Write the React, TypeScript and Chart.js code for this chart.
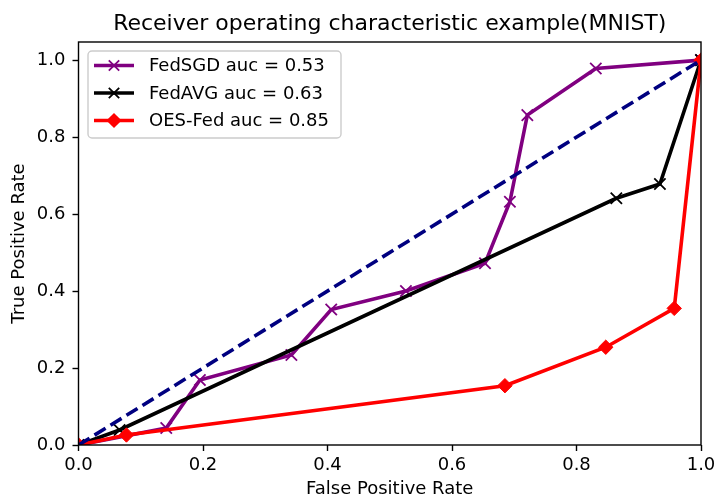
import React, { useEffect, useRef } from "react";
import { Chart, registerables } from "chart.js";

Chart.register(...registerables);

const TITLE = "Receiver operating characteristic example(MNIST)";
const X_LABEL = "False Positive Rate";
const Y_LABEL = "True Positive Rate";

const SGD_LABEL = "FedSGD auc = 0.53";
const SGD_FPR = [0, 0.141, 0.195, 0.342, 0.406, 0.526, 0.653, 0.693, 0.721, 0.831, 1];
const SGD_TPR = [0, 0.044, 0.169, 0.234, 0.352, 0.4, 0.472, 0.632, 0.857, 0.978, 1];

const AVG_LABEL = "FedAVG auc = 0.63";
const AVG_FPR = [0, 0.066, 0.864, 0.934, 1];
const AVG_TPR = [0, 0.039, 0.641, 0.678, 1];

const OES_LABEL = "OES-Fed auc = 0.85";
const OES_FPR = [0, 0.077, 0.685, 0.847, 0.957, 1];
const OES_TPR = [0, 0.026, 0.154, 0.254, 0.355, 1];

const DIAG_FPR = [0, 1];
const DIAG_TPR = [0, 1];

const X_TICKS = [0, 0.2, 0.4, 0.6, 0.8, 1.0];
const Y_TICKS = [0, 0.2, 0.4, 0.6, 0.8, 1.0];

const FONT = "'DejaVu Sans', sans-serif";
const PURPLE = "#800080";
const NAVY = "#000080";
const RED = "#ff0000";
const BLACK = "#000000";
const LW = 3.6;

const toPts = (xs: number[], ys: number[]) => xs.map((x, i) => ({ x, y: ys[i] }));

const LEGEND = [
  { label: SGD_LABEL, color: PURPLE, marker: "x" },
  { label: AVG_LABEL, color: BLACK, marker: "x" },
  { label: OES_LABEL, color: RED, marker: "D" },
];

const framePlugin = {
  id: "mplFrame",
  afterDatasetsDraw(chart: any) {
    const { ctx, chartArea: a } = chart;
    ctx.save();
    ctx.strokeStyle = "#000";
    ctx.lineWidth = 1.4;
    ctx.strokeRect(a.left, a.top, a.right - a.left, a.bottom - a.top);
    ctx.restore();
  },
};

const titlePlugin = {
  id: "mplTitle",
  afterDraw(chart: any) {
    const { ctx, chartArea: a } = chart;
    ctx.save();
    ctx.font = `22px ${FONT}`;
    ctx.fillStyle = "#000";
    ctx.textAlign = "center";
    ctx.textBaseline = "alphabetic";
    ctx.fillText(TITLE, (a.left + a.right) / 2, 30);
    ctx.restore();
  },
};

const legendPlugin = {
  id: "mplLegend",
  afterDraw(chart: any) {
    const { ctx, chartArea: a } = chart;
    const bx = a.left + 9.5;
    const by = a.top + 9;
    const bw = 253;
    const bh = 87;
    const r = 4;
    ctx.save();
    ctx.beginPath();
    ctx.moveTo(bx + r, by);
    ctx.lineTo(bx + bw - r, by);
    ctx.arcTo(bx + bw, by, bx + bw, by + r, r);
    ctx.lineTo(bx + bw, by + bh - r);
    ctx.arcTo(bx + bw, by + bh, bx + bw - r, by + bh, r);
    ctx.lineTo(bx + r, by + bh);
    ctx.arcTo(bx, by + bh, bx, by + bh - r, r);
    ctx.lineTo(bx, by + r);
    ctx.arcTo(bx, by, bx + r, by, r);
    ctx.closePath();
    ctx.fillStyle = "rgba(255,255,255,0.8)";
    ctx.fill();
    ctx.strokeStyle = "#cccccc";
    ctx.lineWidth = 1.4;
    ctx.stroke();

    const x0 = bx + 6;
    const x1 = bx + 46;
    const xm = (x0 + x1) / 2;
    const rows = [by + 14.5, by + 42, by + 69.5];
    LEGEND.forEach((e, i) => {
      const y = rows[i];
      ctx.strokeStyle = e.color;
      ctx.lineWidth = LW;
      ctx.beginPath();
      ctx.moveTo(x0, y);
      ctx.lineTo(x1, y);
      ctx.stroke();
      if (e.marker === "x") {
        const h = 5.2;
        ctx.lineWidth = 1.8;
        ctx.beginPath();
        ctx.moveTo(xm - h, y - h);
        ctx.lineTo(xm + h, y + h);
        ctx.moveTo(xm - h, y + h);
        ctx.lineTo(xm + h, y - h);
        ctx.stroke();
      } else {
        const h = 7.6;
        ctx.fillStyle = e.color;
        ctx.beginPath();
        ctx.moveTo(xm, y - h);
        ctx.lineTo(xm + h, y);
        ctx.lineTo(xm, y + h);
        ctx.lineTo(xm - h, y);
        ctx.closePath();
        ctx.fill();
      }
      ctx.fillStyle = "#000";
      ctx.font = `18px ${FONT}`;
      ctx.textAlign = "left";
      ctx.textBaseline = "middle";
      ctx.fillText(e.label, bx + 61, y + 1);
    });
    ctx.restore();
  },
};

export default function App() {
  const ref = useRef<HTMLCanvasElement | null>(null);
  useEffect(() => {
    if (!ref.current) return;
    const chart = new Chart(ref.current, {
      type: "scatter",
      data: {
        datasets: [
          {
            label: "diag",
            data: toPts(DIAG_FPR, DIAG_TPR),
            showLine: true,
            borderColor: NAVY,
            borderWidth: LW,
            borderDash: [13, 5.8],
            pointRadius: 0,
            order: 0,
          },
          {
            label: OES_LABEL,
            data: toPts(OES_FPR, OES_TPR),
            showLine: true,
            borderColor: RED,
            backgroundColor: RED,
            borderWidth: LW,
            pointStyle: "rectRot",
            pointRadius: 7.2,
            pointBorderWidth: 1,
            pointBorderColor: RED,
            pointBackgroundColor: RED,
            order: 1,
          },
          {
            label: AVG_LABEL,
            data: toPts(AVG_FPR, AVG_TPR),
            showLine: true,
            borderColor: BLACK,
            backgroundColor: BLACK,
            borderWidth: LW,
            pointStyle: "crossRot",
            pointRadius: 8,
            pointBorderWidth: 1.8,
            pointBorderColor: BLACK,
            order: 2,
          },
          {
            label: SGD_LABEL,
            data: toPts(SGD_FPR, SGD_TPR),
            showLine: true,
            borderColor: PURPLE,
            backgroundColor: PURPLE,
            borderWidth: LW,
            pointStyle: "crossRot",
            pointRadius: 8,
            pointBorderWidth: 1.8,
            pointBorderColor: PURPLE,
            order: 3,
          },
        ],
      },
      options: {
        responsive: false,
        animation: false,
        events: [],
        layout: { padding: { top: 42, right: 14, left: 0, bottom: 0 } },
        plugins: { legend: { display: false }, tooltip: { enabled: false }, title: { display: false } },
        scales: {
          x: {
            type: "linear",
            min: 0,
            max: 1,
            afterFit: (s: any) => {
              s.height = 55;
              s.paddingLeft = 0;
              s.paddingRight = 0;
            },
            afterBuildTicks: (s: any) => {
              s.ticks = X_TICKS.map((v) => ({ value: v }));
            },
            ticks: {
              includeBounds: false,
              padding: 4,
              color: "#000",
              font: { family: FONT, size: 18 },
              maxRotation: 0,
              callback: (v: any) => Number(v).toFixed(1),
            },
            grid: { display: true, drawOnChartArea: false, drawTicks: true, tickLength: 6, tickColor: "#000", tickWidth: 1.4 },
            border: { display: false },
            title: { display: true, text: X_LABEL, color: "#000", font: { family: FONT, size: 18 }, padding: { top: 0, bottom: 0 } },
          },
          y: {
            type: "linear",
            min: 0,
            max: 1.047,
            afterFit: (s: any) => {
              s.width = 78.5;
              s.paddingTop = 0;
              s.paddingBottom = 0;
            },
            afterBuildTicks: (s: any) => {
              s.ticks = Y_TICKS.map((v) => ({ value: v }));
            },
            ticks: {
              includeBounds: false,
              padding: 7,
              color: "#000",
              font: { family: FONT, size: 18 },
              callback: (v: any) => Number(v).toFixed(1),
            },
            grid: { display: true, drawOnChartArea: false, drawTicks: true, tickLength: 6, tickColor: "#000", tickWidth: 1.4 },
            border: { display: false },
            title: { display: true, text: Y_LABEL, color: "#000", font: { family: FONT, size: 18 }, padding: { top: 9, bottom: 0 } },
          },
        },
      },
      plugins: [framePlugin, titlePlugin, legendPlugin],
    } as any);
    return () => chart.destroy();
  }, []);
  return (
    <div style={{ position: "absolute", left: 0, top: 0, width: 715, height: 500 }}>
      <canvas ref={ref} width={715} height={500} style={{ width: 715, height: 500, display: "block" }} />
    </div>
  );
}
